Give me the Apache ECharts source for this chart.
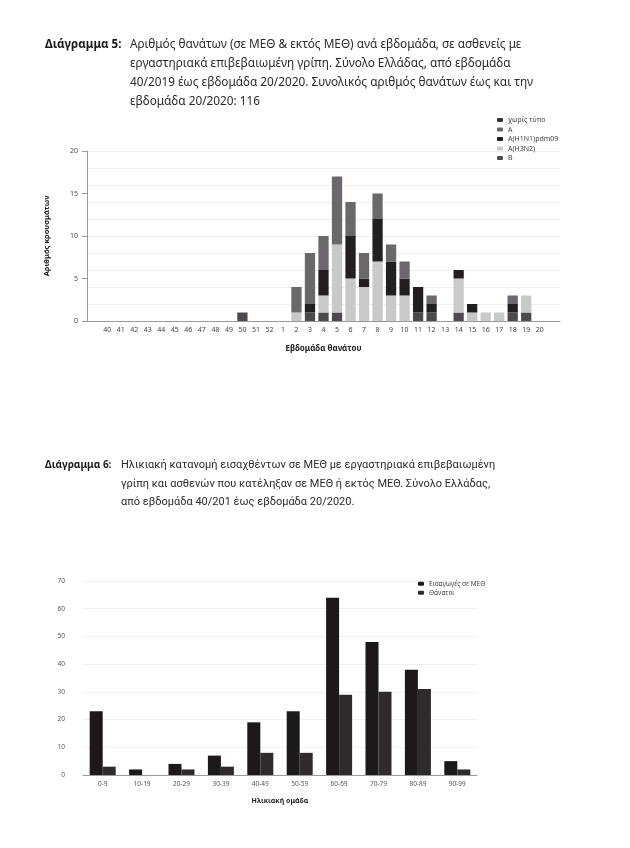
<!DOCTYPE html>
<html>
<head>
<meta charset="utf-8">
<script src="https://cdn.jsdelivr.net/npm/echarts@6/dist/echarts.min.js"></script>
<style>
  html, body { margin: 0; padding: 0; background: #fff; }
  #chart { width: 630px; height: 848px; }
</style>
</head>
<body>
<div id="chart"></div>
<script>
// Διάγραμμα 5 - θάνατοι ανά εβδομάδα και τύπο ιού
const weeks = ['40', '41', '42', '43', '44', '45', '46', '47', '48', '49', '50', '51', '52',
  '1', '2', '3', '4', '5', '6', '7', '8', '9', '10', '11', '12', '13', '14', '15', '16', '17', '18', '19', '20'];
const untyped = [0, 0, 0, 0, 0, 0, 0, 0, 0, 0, 0, 0, 0,
  0, 0, 0, 0, 0, 0, 0, 0, 0, 0, 0, 0, 0, 0, 0, 0, 0, 0, 0, 0];
const typeA = [0, 0, 0, 0, 0, 0, 0, 0, 0, 0, 0, 0, 0,
  0, 3, 6, 4, 8, 4, 3, 3, 2, 2, 0, 1, 0, 0, 0, 0, 0, 1, 0, 0];
const typeH1N1 = [0, 0, 0, 0, 0, 0, 0, 0, 0, 0, 0, 0, 0,
  0, 0, 1, 3, 0, 5, 1, 5, 4, 2, 3, 1, 0, 1, 1, 0, 0, 1, 0, 0];
const typeH3N2 = [0, 0, 0, 0, 0, 0, 0, 0, 0, 0, 0, 0, 0,
  0, 1, 0, 2, 8, 5, 4, 7, 3, 3, 0, 0, 0, 4, 1, 1, 1, 0, 2, 0];
const typeB = [0, 0, 0, 0, 0, 0, 0, 0, 0, 0, 1, 0, 0,
  0, 0, 1, 1, 1, 0, 0, 0, 0, 0, 1, 1, 0, 1, 0, 0, 0, 1, 1, 0];

// Διάγραμμα 6 - ηλικιακή κατανομή
const ageGroups = ['0-9', '10-19', '20-29', '30-39', '40-49', '50-59', '60-69', '70-79', '80-89', '90-99'];
const icuAdmissions = [23, 2, 4, 7, 19, 23, 64, 48, 38, 5];
const deaths = [3, 0, 2, 3, 8, 8, 29, 30, 31, 2];

const font = 'Noto Sans';
// κενή θέση πριν το 40 και μετά το 20
const pad = (arr) => [null].concat(arr, [null]);
const weekAxis = [''].concat(weeks, ['']);

const weekSeries = [
  { name: 'B', data: typeB, color: '#4d494e' },
  { name: 'A(H3N2)', data: typeH3N2, color: '#c9c9c9' },
  { name: 'A(H1N1)pdm09', data: typeH1N1, color: '#221e21' },
  { name: 'A', data: typeA, color: '#6c676d' },
  { name: 'χωρίς τύπο', data: untyped, color: '#38343a' },
].map(function (s) {
  return {
    name: s.name,
    type: 'bar',
    stack: 'weeks',
    xAxisIndex: 0,
    yAxisIndex: 0,
    barCategoryGap: '24%',
    data: pad(s.data),
    itemStyle: { color: s.color },
  };
});

const chart = echarts.init(document.getElementById('chart'));
chart.setOption({
  animation: false,
  textStyle: { fontFamily: font },
  title: [
    {
      text: 'Διάγραμμα 5:',
      left: 45, top: 35, padding: 0,
      textStyle: { fontSize: 11.5, fontWeight: 'bold', color: '#1a1a1a', lineHeight: 19 },
    },
    {
      text: 'Αριθμός θανάτων (σε ΜΕΘ & εκτός ΜΕΘ) ανά εβδομάδα, σε ασθενείς με\n' +
        'εργαστηριακά επιβεβαιωμένη γρίπη. Σύνολο Ελλάδας, από εβδομάδα\n' +
        '40/2019 έως εβδομάδα 20/2020. Συνολικός αριθμός θανάτων έως και την\n' +
        'εβδομάδα 20/2020: 116',
      left: 130, top: 35, padding: 0,
      textStyle: { fontSize: 11.8, fontWeight: 'normal', color: '#2a2a2a', lineHeight: 19 },
    },
    {
      text: 'Διάγραμμα 6:',
      left: 45, top: 456, padding: 0,
      textStyle: { fontSize: 10, fontWeight: 'bold', color: '#1a1a1a', lineHeight: 18.5 },
    },
    {
      text: 'Ηλικιακή κατανομή εισαχθέντων σε ΜΕΘ με εργαστηριακά επιβεβαιωμένη\n' +
        'γρίπη και ασθενών που κατέληξαν σε ΜΕΘ ή εκτός ΜΕΘ. Σύνολο Ελλάδας,\n' +
        'από εβδομάδα 40/201 έως εβδομάδα 20/2020.',
      left: 121, top: 456, padding: 0,
      textStyle: { fontSize: 11, fontWeight: 'normal', color: '#2a2a2a', lineHeight: 18.5, fontFamily: 'Roboto' },
    },
  ],
  legend: [
    {
      data: ['χωρίς τύπο', 'A', 'A(H1N1)pdm09', 'A(H3N2)', 'B'],
      orient: 'vertical',
      left: 497, top: 116, padding: 0,
      itemWidth: 6, itemHeight: 4, itemGap: 1.5,
      textStyle: { fontSize: 7, color: '#444', lineHeight: 8 },
    },
    {
      data: ['Εισαγωγές σε ΜΕΘ', 'Θάνατοι'],
      orient: 'vertical',
      left: 418, top: 580, padding: 0,
      itemWidth: 6, itemHeight: 4, itemGap: 1.5,
      textStyle: { fontSize: 6.5, color: '#444', lineHeight: 7.5 },
    },
  ],
  grid: [
    { left: 87, right: 70, top: 151, height: 170 },
    { left: 83, right: 153, top: 581, height: 194 },
  ],
  xAxis: [
    {
      gridIndex: 0,
      type: 'category',
      data: weekAxis,
      name: 'Εβδομάδα θανάτου',
      nameLocation: 'middle',
      nameGap: 24,
      nameTextStyle: { fontSize: 8, fontWeight: 'bold', color: '#222' },
      axisLine: { lineStyle: { color: '#9a9a9a', width: 1 } },
      axisTick: { show: false },
      axisLabel: { fontSize: 7, color: '#444', margin: 5, interval: 0 },
    },
    {
      gridIndex: 1,
      type: 'category',
      data: ageGroups,
      name: 'Ηλικιακή ομάδα',
      nameLocation: 'middle',
      nameGap: 22,
      nameTextStyle: { fontSize: 7, fontWeight: 'bold', color: '#222' },
      axisLine: { lineStyle: { color: '#9a9a9a', width: 1 } },
      axisTick: { show: false },
      axisLabel: { fontSize: 6.5, color: '#555', margin: 6, interval: 0 },
    },
  ],
  yAxis: [
    {
      gridIndex: 0,
      type: 'value',
      min: 0, max: 20, interval: 5,
      name: 'Αριθμός κρουσμάτων',
      nameLocation: 'middle',
      nameGap: 36,
      nameRotate: 90,
      nameTextStyle: { fontSize: 7.5, fontWeight: 'bold', color: '#222' },
      axisLine: { show: true, lineStyle: { color: '#9a9a9a', width: 1 } },
      axisTick: { show: true, length: 5, lineStyle: { color: '#9a9a9a' } },
      axisLabel: { fontSize: 7, color: '#444', margin: 9 },
      splitLine: { show: false },
    },
    {
      // αχνές γραμμές πλέγματος ανά 2
      gridIndex: 0,
      type: 'value',
      min: 0, max: 20, interval: 2,
      position: 'left',
      axisLine: { show: false },
      axisTick: { show: false },
      axisLabel: { show: false },
      splitLine: { show: true, lineStyle: { color: '#efefef', width: 1 } },
    },
    {
      gridIndex: 1,
      type: 'value',
      min: 0, max: 70, interval: 10,
      axisLine: { show: false },
      axisTick: { show: false },
      axisLabel: { fontSize: 6.5, color: '#555', margin: 18 },
      splitLine: { show: true, lineStyle: { color: '#f0f0f0', width: 1 } },
    },
  ],
  series: weekSeries.concat([
    {
      name: 'Εισαγωγές σε ΜΕΘ',
      type: 'bar',
      xAxisIndex: 1,
      yAxisIndex: 2,
      barGap: '0%',
      barCategoryGap: '34%',
      data: icuAdmissions,
      itemStyle: { color: '#1d191b' },
    },
    {
      name: 'Θάνατοι',
      type: 'bar',
      xAxisIndex: 1,
      yAxisIndex: 2,
      barGap: '0%',
      barCategoryGap: '34%',
      data: deaths,
      itemStyle: { color: '#2e2a2d' },
    },
  ]),
});
</script>
</body>
</html>
